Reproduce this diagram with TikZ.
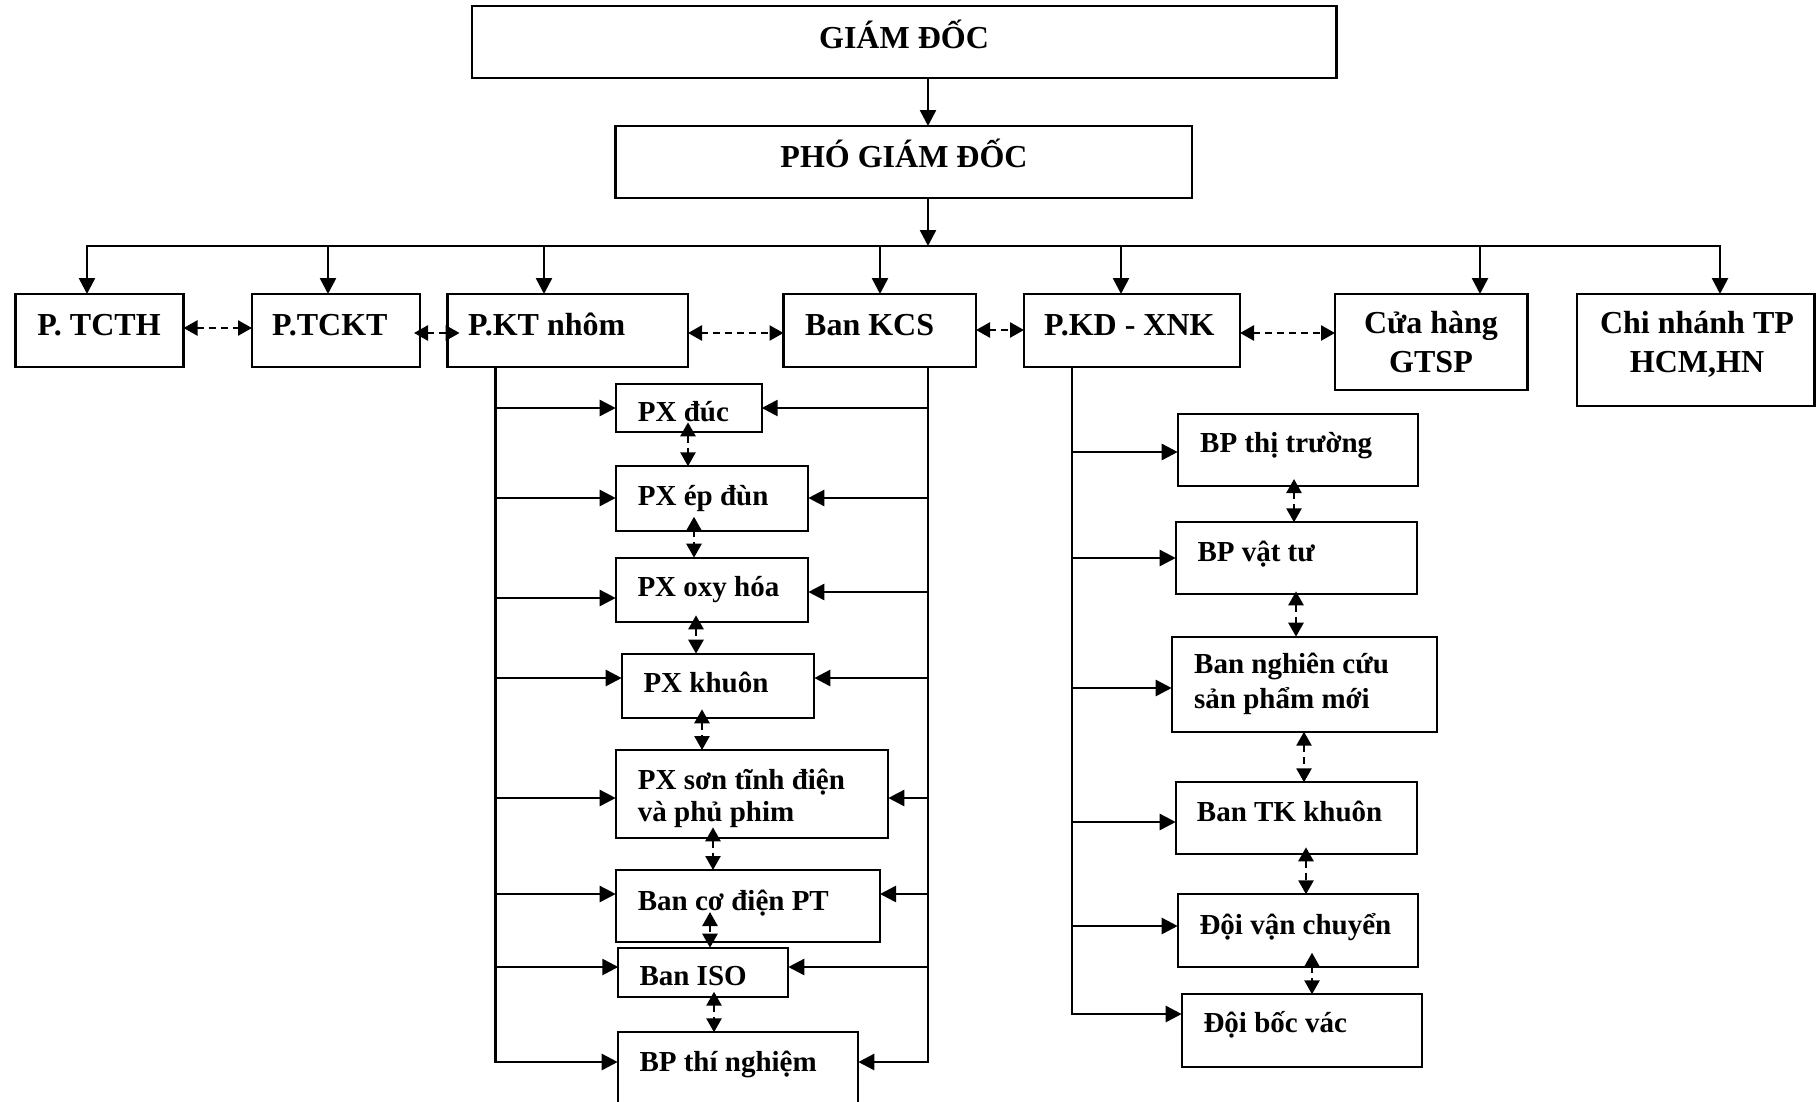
\documentclass[tikz,border=0pt]{standalone}
\usepackage{fontspec}
\setmainfont{Liberation Serif}
\usetikzlibrary{arrows.meta,calc}

% box given by its corners (x1,y1) and (x2,y2)
\newcommand\orgbox[5]{%
  \node[box, minimum width={(#4)-(#2)}, minimum height={(#5)-(#3)}]
    (#1) at ({((#2)+(#4))/2},{((#3)+(#5))/2}) {};}
% drop from the bus into a department
\newcommand\drop[2]{%
  \coordinate (#1D) at (#2,246);
  \draw[arr] (#1D) -- (#1.north -| #1D);}
% feed arrows from a vertical trunk into a unit
\newcommand\fromleft[3]{%
  \coordinate (#1L) at (#2,#3);
  \draw[arr] (#1L) -- (#1.west |- #1L);}
\newcommand\fromright[3]{%
  \coordinate (#1R) at (#2,#3);
  \draw[arr] (#1R) -- (#1.east |- #1R);}
% dashed two-way link between stacked units
\newcommand\peer[4]{%
  \coordinate (#1#2) at (#3,0);
  \draw[dbl] ($(#1.south -| #1#2)+(0,-#4)$) -- (#2.north -| #1#2);}
% dashed two-way link between neighbouring departments
\newcommand\side[3]{%
  \coordinate (#1#2) at (0,#3);
  \draw[dbl] (#1.east |- #1#2) -- (#2.west |- #1#2);}

\begin{document}
\begin{tikzpicture}[x=1pt,y=-1pt,
  box/.style={draw, line width=2.3pt, inner sep=0pt, outer sep=0pt},
  ln/.style={line width=2.6pt, line cap=rect},
  arr/.style={line width=2.6pt, -{Triangle[length=16pt,width=16pt]}},
  dbl/.style={line width=2.6pt, dash pattern=on 7pt off 5pt,
    {Triangle[length=14pt,width=15pt]}-{Triangle[length=14pt,width=15pt]}},
  t1/.style={font=\bfseries\fontsize{32}{38}\selectfont, inner sep=0pt, anchor=base},
  t2/.style={font=\bfseries\fontsize{32}{38}\selectfont, inner sep=0pt, anchor=base west},
  t3/.style={font=\bfseries\fontsize{29}{33}\selectfont, inner sep=0pt, anchor=base west}]

\path[use as bounding box, fill=white] (0,0) rectangle (1816,1101);

% ---- boxes ----
\orgbox{giam}{472}{6}{1336.5}{78}
\orgbox{pho}{615.5}{126}{1192}{198}
\orgbox{tcth}{15.6}{294}{183.5}{367}
\orgbox{tckt}{252}{294}{420}{367}
\orgbox{kt}{447.6}{294}{688}{367}
\orgbox{kcs}{783.5}{294}{976}{367}
\orgbox{kd}{1024}{294}{1240}{367}
\orgbox{cua}{1335}{294}{1527.6}{390}
\orgbox{chi}{1577}{294}{1814.5}{406}
\orgbox{duc}{615.7}{384}{761.7}{432.3}
\orgbox{ep}{615.7}{466.3}{808.3}{530.7}
\orgbox{oxy}{615.7}{557.7}{808.3}{622.3}
\orgbox{khuon}{621.7}{653.7}{814.3}{718.3}
\orgbox{son}{615.7}{750}{888.3}{838.3}
\orgbox{co}{615.7}{870}{880}{942}
\orgbox{iso}{618.3}{947.7}{788.3}{996.7}
\orgbox{thi}{617.7}{1032.3}{858.3}{1115}
\orgbox{tt}{1177.7}{414}{1418.3}{486}
\orgbox{vt}{1175.7}{522.3}{1416.7}{594.3}
\orgbox{nc}{1171.7}{636.7}{1436.7}{731.7}
\orgbox{tk}{1175.7}{782.3}{1416.7}{854.3}
\orgbox{vc}{1177.7}{894.3}{1418.3}{966.7}
\orgbox{bv}{1181.7}{994.3}{1422.3}{1066.7}

% ---- labels ----
\node[t1] (lgiam) at (904,48) {GIÁM ĐỐC};
\node[t1] (lpho) at (904,167) {PHÓ GIÁM ĐỐC};
\node[t1] (ltcth) at (99,335) {P. TCTH};
\node[t2] (ltckt) at (272,335) {P.TCKT};
\node[t2] (lkt) at (468,335) {P.KT nhôm};
\node[t2] (lkcs) at (805,335) {Ban KCS};
\node[t2] (lkd) at (1044,335) {P.KD - XNK};
\node[t1] (lcua1) at (1431,333) {Cửa hàng};
\node[t1] (lcua2) at (1431,372) {GTSP};
\node[t1] (lchi1) at (1697,333) {Chi nhánh TP};
\node[t1] (lchi2) at (1697,372) {HCM,HN};

\node[t3] (lduc) at (637.7,421.7) {PX đúc};
\node[t3] (lep) at (637.7,505) {PX ép đùn};
\node[t3] (loxy) at (637.3,596.7) {PX oxy hóa};
\node[t3] (lkhuon) at (643.3,692.3) {PX khuôn};
\node[t3] (lson1) at (637.7,789) {PX sơn tĩnh điện};
\node[t3] (lson2) at (637.7,821.7) {và phủ phim};
\node[t3] (lco) at (637.7,910) {Ban cơ điện PT};
\node[t3] (liso) at (639.3,985) {Ban ISO};
\node[t3] (lthi) at (639.3,1071.7) {BP thí nghiệm};
\node[t3] (ltt) at (1200,452.7) {BP thị trường};
\node[t3] (lvt) at (1197.3,561) {BP vật tư};
\node[t3] (lnc1) at (1194,673.3) {Ban nghiên cứu};
\node[t3] (lnc2) at (1194,708.3) {sản phẩm mới};
\node[t3] (ltk) at (1196.7,821.7) {Ban TK khuôn};
\node[t3] (lvc) at (1199.3,934) {Đội vận chuyển};
\node[t3] (lbv) at (1203.3,1032.7) {Đội bốc vác};

% ---- top of the hierarchy ----
\coordinate (mid) at (928,0);
\draw[arr] (giam.south -| mid) -- (pho.north -| mid);
\coordinate (busL) at (87,246);
\coordinate (busR) at (1720,246);
\draw[ln] (busL) -- (busR);
\draw[arr] (pho.south -| mid) -- (mid |- busL);
\drop{tcth}{87}
\drop{tckt}{328}
\drop{kt}{544}
\drop{kcs}{880}
\drop{kd}{1121}
\drop{cua}{1480}
\drop{chi}{1720}

% ---- links between departments ----
\side{tcth}{tckt}{328}
% the gap here is narrow, so both tips run into the boxes
\coordinate (tcktkt) at (0,333);
\draw[dbl] ($(tckt.east |- tcktkt)+(-6,0)$) -- ($(kt.west |- tcktkt)+(12,0)$);
\side{kt}{kcs}{333}
\side{kcs}{kd}{330}
\side{kd}{cua}{333}

% ---- trunks ----
\coordinate (Lend) at (495.7,1062);
\draw[ln] (kt.south -| Lend) -- (Lend);
\coordinate (Rend) at (928,1062);
\draw[ln] (kcs.south -| Rend) -- (Rend);
\coordinate (Kend) at (1072,1014);
\draw[ln] (kd.south -| Kend) -- (Kend);

\fromleft{duc}{495.7}{408}
\fromleft{ep}{495.7}{498}
\fromleft{oxy}{495.7}{598}
\fromleft{khuon}{495.7}{678}
\fromleft{son}{495.7}{798}
\fromleft{co}{495.7}{894}
\fromleft{iso}{495.7}{967}
\fromleft{thi}{495.7}{1062}

\fromright{duc}{928}{408}
\fromright{ep}{928}{498}
\fromright{oxy}{928}{592}
\fromright{khuon}{928}{678}
\fromright{son}{928}{798}
\fromright{co}{928}{894}
\fromright{iso}{928}{967}
\fromright{thi}{928}{1062}

\fromleft{tt}{1072}{452}
\fromleft{vt}{1072}{558}
\fromleft{nc}{1072}{688}
\fromleft{tk}{1072}{822}
\fromleft{vc}{1072}{926}
\fromleft{bv}{1072}{1014}

% ---- links between stacked units ----
\peer{duc}{ep}{688}{10}
\peer{ep}{oxy}{694}{14}
\peer{oxy}{khuon}{696}{7}
\peer{khuon}{son}{702}{9}
\peer{son}{co}{713}{11}
\peer{co}{iso}{710}{30}
\peer{iso}{thi}{714}{5}
\peer{tt}{vt}{1294}{7}
\peer{vt}{nc}{1296}{3}
\peer{nc}{tk}{1304}{0}
\peer{tk}{vc}{1306}{7}
\peer{vc}{bv}{1312}{14}

\end{tikzpicture}
\end{document}
